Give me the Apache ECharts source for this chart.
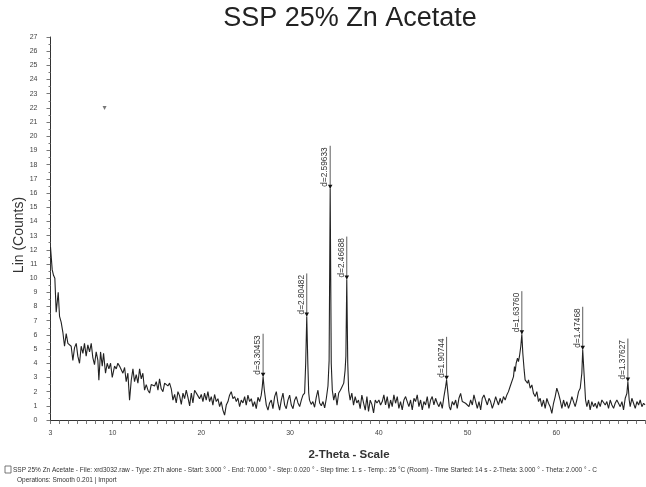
<!DOCTYPE html>
<html>
<head>
<meta charset="utf-8">
<title>SSP 25% Zn Acetate</title>
<script src="https://cdn.jsdelivr.net/npm/echarts@6/dist/echarts.min.js"></script>
<style>
  html, body { margin: 0; padding: 0; background: #fff; overflow: hidden; }
  /* a touch wider than the window: the 70° end of the axis sits just past the right edge */
  #chart { width: 648px; height: 487px; }
</style>
</head>
<body>
<div id="chart"></div>
<script>
// 2-theta positions (deg) and intensities (counts)
const twoTheta = [
  3.00, 3.19, 3.34, 3.49, 3.64, 3.87, 4.02, 4.20, 4.39, 4.58, 4.77, 4.96, 5.14, 5.33, 5.52, 5.71, 5.90, 6.08, 6.27, 6.46,
  6.65, 6.83, 7.02, 7.21, 7.40, 7.59, 7.77, 7.96, 8.15, 8.34, 8.45, 8.64, 8.83, 8.98, 9.20, 9.39, 9.58, 9.77, 9.96, 10.22,
  10.41, 10.59, 10.78, 10.97, 11.16, 11.35, 11.53, 11.72, 11.91, 12.10, 12.29, 12.47, 12.66, 12.85, 13.04, 13.23, 13.41, 13.60, 13.79, 13.98,
  14.17, 14.35, 14.54, 14.73, 14.92, 15.11, 15.29, 15.48, 15.67, 15.86, 16.05, 16.23, 16.42, 16.61, 16.80, 16.99, 17.17, 17.36, 17.55, 17.74,
  17.93, 18.11, 18.30, 18.49, 18.68, 18.87, 19.05, 19.24, 19.43, 19.62,
  19.80, 19.99, 20.18, 20.36, 20.55, 20.74, 20.93, 21.12, 21.30, 21.49, 21.68, 21.87, 22.06, 22.24, 22.43, 22.62, 22.81, 23.00, 23.18, 23.37,
  23.56, 23.75, 23.94, 24.12, 24.31, 24.50, 24.69, 24.88, 25.06, 25.25, 25.44, 25.63, 25.82, 26.00, 26.19, 26.38, 26.57, 26.75, 26.86, 26.96,
  27.10, 27.32, 27.51, 27.69, 27.88, 28.07, 28.26, 28.45, 28.63, 28.82, 29.01, 29.20, 29.39, 29.57, 29.76, 29.95, 30.14, 30.33, 30.51, 30.70,
  30.89, 31.08, 31.27, 31.45, 31.64, 31.76, 31.88, 32.00, 32.10, 32.19, 32.38, 32.57, 32.76, 32.95, 33.14, 33.33, 33.52, 33.71, 33.90, 34.08,
  34.27, 34.40, 34.52, 34.64, 34.76, 34.92, 35.10, 35.29, 35.48, 35.67, 35.86, 36.05, 36.20, 36.29, 36.39, 36.50, 36.60, 36.77, 36.96, 37.15,
  37.34, 37.52, 37.71, 37.90, 38.09, 38.28, 38.47, 38.66, 38.84, 39.03, 39.22, 39.41, 39.60, 39.79,
  40.01, 40.20, 40.39, 40.57, 40.76, 40.95, 41.14, 41.33, 41.51, 41.70, 41.89, 42.08, 42.26, 42.45, 42.64, 42.83, 43.02, 43.20, 43.39, 43.58,
  43.77, 43.96, 44.14, 44.33, 44.52, 44.71, 44.90, 45.08, 45.27, 45.46, 45.65, 45.84, 46.02, 46.21, 46.40, 46.59, 46.78, 46.96, 47.15, 47.34,
  47.53, 47.64, 47.79, 47.94, 48.09, 48.28, 48.47, 48.66, 48.84, 49.03, 49.22, 49.41, 49.60, 49.78, 49.97, 50.16, 50.35, 50.54, 50.72, 50.91,
  51.10, 51.29, 51.48, 51.66, 51.85, 52.04, 52.23, 52.42, 52.60, 52.79, 52.98, 53.17, 53.35,
  53.49, 53.67, 53.86, 54.05, 54.24, 54.43, 54.61, 54.80, 54.99, 55.18, 55.29, 55.37, 55.48, 55.63, 55.74, 55.85, 56.00, 56.12, 56.23, 56.38,
  56.49, 56.61, 56.76, 56.87, 57.06, 57.25, 57.43, 57.62, 57.81, 58.00, 58.19, 58.37, 58.56, 58.75, 58.94, 59.12, 59.31, 59.50, 59.69, 59.88,
  60.06, 60.25, 60.44, 60.63, 60.82, 61.00, 61.19, 61.38, 61.57, 61.76, 61.94, 62.13, 62.32, 62.51, 62.70, 62.88, 62.98, 63.15, 63.30, 63.45,
  63.64, 63.82, 64.01, 64.20, 64.39, 64.58, 64.76, 64.95, 65.14, 65.33, 65.52, 65.70, 65.89, 66.08, 66.27, 66.46, 66.64, 66.83, 67.02, 67.21,
  67.40, 67.58, 67.77, 67.96, 68.07, 68.22, 68.33, 68.52, 68.71, 68.90, 69.09, 69.28, 69.46, 69.65, 69.84, 70.00
];
const counts = [
  12.2, 10.6, 10.2, 10.0, 7.6, 9.0, 7.3, 6.9, 6.2, 5.2, 6.1, 5.4, 5.5, 5.2, 4.2, 5.1, 5.4, 4.5, 4.0, 5.2,
  4.7, 5.4, 4.5, 5.3, 4.8, 5.4, 4.4, 3.9, 4.8, 4.2, 2.8, 4.8, 3.8, 4.7, 3.3, 4.0, 3.6, 4.0, 3.0, 3.8,
  3.6, 4.0, 3.8, 3.9, 3.3, 3.7, 2.7, 3.3, 1.4, 2.8, 3.6, 2.7, 3.2, 2.6, 3.6, 2.9, 3.3, 2.1, 2.5, 2.1,
  1.9, 2.5, 2.6, 2.4, 2.7, 2.1, 2.9, 2.2, 2.0, 2.6, 2.7, 2.4, 2.6, 2.2, 1.4, 1.8, 1.2, 2.0, 1.7, 1.1,
  1.9, 1.5, 2.1, 1.6, 1.0, 1.9, 1.2, 2.1, 2.2, 1.7,
  1.5, 1.8, 1.3, 1.9, 1.4, 2.0, 1.3, 1.65, 1.05, 1.8, 1.3, 1.5, 0.95, 1.3, 0.7, 0.35, 1.05, 1.3, 1.75, 2.0,
  1.5, 1.65, 1.3, 1.55, 0.95, 1.4, 1.2, 1.65, 1.05, 1.75, 1.3, 1.5, 0.95, 1.3, 0.8, 1.6, 1.3, 1.75, 2.3, 3.05,
  2.1, 1.05, 0.7, 1.2, 1.4, 0.8, 1.65, 2.0, 1.2, 0.7, 1.4, 1.9, 1.05, 0.8, 1.4, 1.75, 1.05, 0.8, 1.4, 1.65,
  1.2, 0.95, 1.4, 1.75, 1.9, 4.0, 7.3, 4.0, 1.9, 1.4, 1.1, 1.3, 0.9, 1.6, 2.1, 1.2, 1.0, 1.3, 0.85, 1.5,
  2.4, 4.2, 16.3, 4.0, 2.1, 1.4, 1.9, 1.05, 1.9, 2.1, 2.35, 2.6, 3.5, 4.5, 9.9, 4.0, 2.1, 1.4, 1.9, 1.05,
  1.65, 1.2, 1.4, 0.8, 1.75, 1.2, 0.7, 1.65, 0.6, 1.4, 1.1, 0.5, 1.4, 1.2,
  1.41, 1.06, 1.3, 1.77, 1.06, 1.65, 0.82, 1.41, 0.94, 1.77, 1.18, 1.65, 0.82, 1.3, 0.71, 1.41, 1.65, 1.3, 0.94, 1.41,
  0.71, 1.53, 1.3, 1.77, 0.94, 1.41, 0.71, 1.3, 1.06, 1.65, 0.82, 1.41, 1.65, 1.06, 1.53, 1.18, 0.94, 1.3, 0.82, 1.65,
  2.35, 2.83, 1.88, 0.94, 0.71, 1.3, 1.06, 1.41, 0.82, 1.53, 1.88, 1.3, 1.41, 1.18, 1.3, 0.94, 1.41, 1.06, 1.77, 1.3,
  0.82, 1.3, 0.71, 1.53, 1.77, 1.41, 1.06, 1.53, 1.3, 0.82, 1.18, 1.65, 1.3,
  1.06, 1.53, 1.18, 1.65, 1.41, 1.77, 2.0, 2.36, 2.24, 3.06, 3.77, 3.42, 4.0, 4.36, 4.12, 4.48, 5.18, 6.05, 4.71, 3.53,
  2.83, 2.95, 2.59, 2.83, 2.24, 2.47, 1.88, 1.65, 2.0, 1.3, 1.53, 0.94, 1.41, 0.82, 1.53, 1.18, 0.94, 0.47, 1.18, 1.65,
  2.24, 1.88, 1.41, 0.82, 1.41, 0.94, 1.3, 0.82, 1.18, 1.65, 1.3, 0.94, 1.41, 2.0, 2.24, 3.3, 4.95, 3.06, 1.41, 0.94,
  1.41, 0.71, 1.3, 0.94, 1.18, 0.82, 1.3, 0.94, 1.41, 1.53, 1.06, 1.3, 0.82, 1.41, 1.06, 0.82, 1.18, 1.41, 1.53, 0.94,
  1.3, 0.71, 1.53, 1.88, 2.71, 1.41, 0.94, 1.53, 1.18, 0.82, 1.3, 1.06, 1.41, 0.94, 1.18, 1.06
];

// identified peaks (d-spacing labels)
const peakTheta = [26.96, 31.88, 34.52, 36.39, 47.64, 56.12, 62.98, 68.07];
const peakCounts = [3.05, 7.3, 16.3, 9.9, 2.83, 6.05, 4.95, 2.71];
const peakLabels = ["d=3.30453", "d=2.80482", "d=2.59633", "d=2.46688", "d=1.90744", "d=1.63760", "d=1.47468", "d=1.37627"];

// lone marker without label
const strayMark = [[9.09, 22.0]];

const xLabelValues = [3, 10, 20, 30, 40, 50, 60];
const footerLine1 = "SSP 25% Zn Acetate - File: xrd3032.raw - Type: 2Th alone - Start: 3.000 ° - End: 70.000 ° - Step: 0.020 ° - Step time: 1. s - Temp.: 25 °C (Room) - Time Started: 14 s - 2-Theta: 3.000 ° - Theta: 2.000 ° - C";
const footerLine2 = "Operations: Smooth 0.201 | Import";

const font = "'Liberation Sans', Arial, sans-serif";
const chart = echarts.init(document.getElementById("chart"));

chart.setOption({
  animation: false,
  backgroundColor: "#fff",
  grid: { left: 50.5, right: 0, top: 37, bottom: 67 },
  xAxis: {
    type: "value",
    min: 3,
    max: 70,
    interval: 1,
    splitLine: { show: false },
    axisLine: { lineStyle: { color: "#333", width: 1 } },
    axisTick: { length: 4, lineStyle: { color: "#555", width: 0.8 } },
    axisLabel: {
      margin: 10,
      fontSize: 7,
      color: "#444",
      fontFamily: font,
      formatter: v => (xLabelValues.indexOf(v) >= 0 ? String(v) : "")
    }
  },
  yAxis: {
    type: "value",
    min: 0,
    max: 27,
    interval: 1,
    splitLine: { show: false },
    axisLine: { show: true, lineStyle: { color: "#333", width: 1 } },
    axisTick: { show: true, length: 4, lineStyle: { color: "#555", width: 0.8 } },
    minorTick: { show: true, splitNumber: 2, length: 2, lineStyle: { color: "#777" } },
    axisLabel: { margin: 13, fontSize: 7, color: "#444", fontFamily: font }
  },
  graphic: [
    { type: "text", x: 350, y: 19, style: { text: "SSP 25% Zn Acetate", fontSize: 27, fontFamily: font, fill: "#222", align: "center", verticalAlign: "middle" } },
    { type: "text", x: 19, y: 235, rotation: Math.PI / 2, style: { text: "Lin (Counts)", fontSize: 14, fontFamily: font, fill: "#333", align: "center", verticalAlign: "middle" } },
    { type: "text", x: 349, y: 455, style: { text: "2-Theta - Scale", fontSize: 11.5, fontWeight: "bold", fontFamily: font, fill: "#333", align: "center", verticalAlign: "middle" } },
    { type: "rect", shape: { x: 5, y: 466, width: 6, height: 7 }, style: { fill: "none", stroke: "#555", lineWidth: 0.8 } },
    { type: "text", x: 13, y: 470, style: { text: footerLine1, fontSize: 6.5, fontFamily: font, fill: "#333", verticalAlign: "middle" } },
    { type: "text", x: 17, y: 480, style: { text: footerLine2, fontSize: 6.5, fontFamily: font, fill: "#333", verticalAlign: "middle" } }
  ],
  series: [
    {
      type: "line",
      data: twoTheta.map((t, i) => [t, counts[i]]),
      showSymbol: false,
      lineStyle: { color: "#222", width: 1.1 },
      silent: true
    },
    {
      type: "custom",
      clip: false,
      data: peakTheta.map((t, i) => [t, peakCounts[i], i]),
      renderItem: (params, api) => {
        const p = api.coord([api.value(0), api.value(1)]);
        const label = peakLabels[api.value(2)];
        return {
          type: "group",
          children: [
            { type: "line", shape: { x1: p[0], y1: p[1], x2: p[0], y2: p[1] - 43 }, style: { stroke: "#333", lineWidth: 0.8 } },
            { type: "polygon", shape: { points: [[p[0] - 2.3, p[1] - 4], [p[0] + 2.3, p[1] - 4], [p[0], p[1]]] }, style: { fill: "#111" } },
            { type: "text", x: p[0] - 1, y: p[1] - 2, rotation: Math.PI / 2, style: { text: label, fontSize: 8.3, fontFamily: font, fill: "#333", align: "left", verticalAlign: "bottom" } }
          ]
        };
      }
    },
    {
      type: "scatter",
      data: strayMark,
      symbol: "triangle",
      symbolRotate: 180,
      symbolSize: 4,
      itemStyle: { color: "#555" }
    }
  ]
});
</script>
</body>
</html>
